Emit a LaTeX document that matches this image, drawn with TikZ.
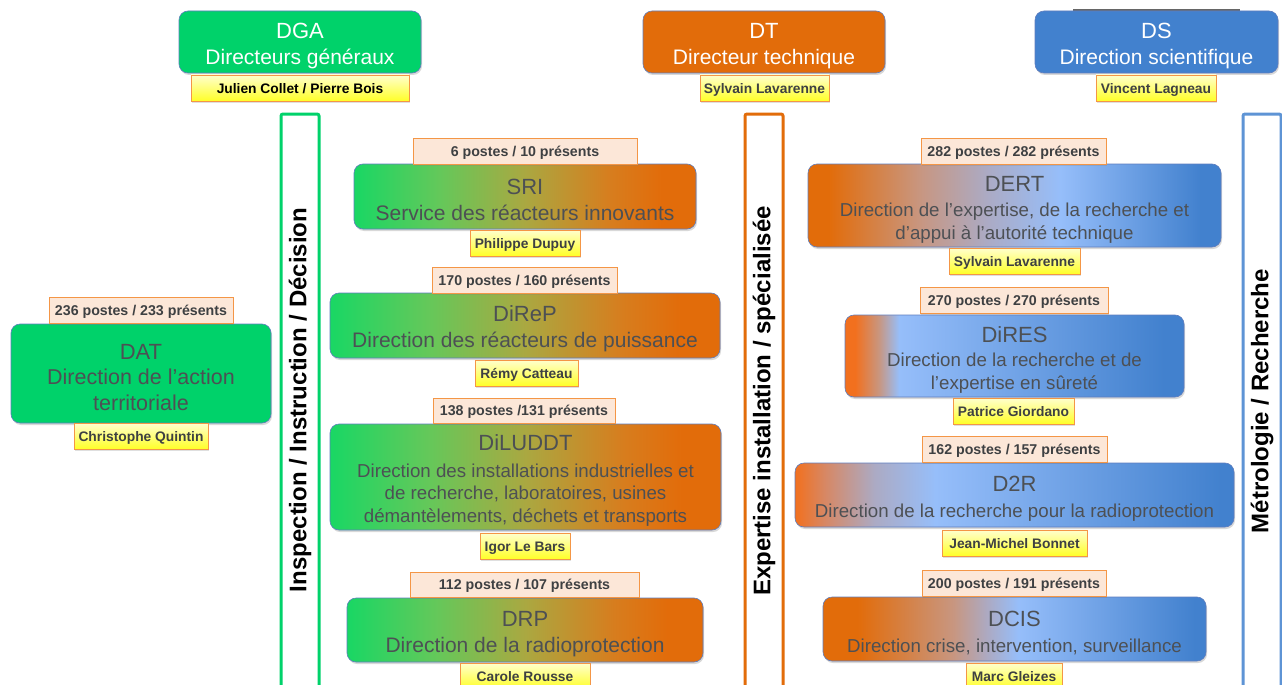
\documentclass[tikz,border=0pt]{standalone}
\usepackage{fontspec}
\setmainfont{Liberation Sans}
\usetikzlibrary{shadows}
\definecolor{cG}{RGB}{0,210,106}
\definecolor{cO}{RGB}{226,108,10}
\definecolor{cOb}{RGB}{242,112,30}
\definecolor{cB}{RGB}{66,129,206}
\definecolor{cLB}{RGB}{150,190,250}
\definecolor{tanA}{RGB}{200,150,128}
\definecolor{tanB}{RGB}{214,136,102}
\definecolor{lav}{RGB}{172,170,195}
\definecolor{gA}{RGB}{25,215,100}
\definecolor{gB}{RGB}{100,200,90}
\definecolor{gC}{RGB}{170,168,65}
\definecolor{gD}{RGB}{215,125,30}
\definecolor{txt}{RGB}{77,80,84}
\definecolor{lab}{RGB}{62,64,66}
\definecolor{bord}{RGB}{95,125,190}
\definecolor{peach}{RGB}{252,231,216}
\definecolor{orb}{RGB}{244,150,70}
\definecolor{ylo}{RGB}{255,255,40}
\definecolor{yhi}{RGB}{255,255,205}
\pgfdeclarehorizontalshading{gro}{100bp}{color(0bp)=(gA); color(25bp)=(gA); color(37.5bp)=(gB); color(50bp)=(gC); color(62.5bp)=(gD); color(70bp)=(cO); color(100bp)=(cO)}
\pgfdeclarehorizontalshading{dert}{100bp}{color(0bp)=(cO); color(27.5bp)=(cO); color(38.5bp)=(tanA); color(46.5bp)=(lav); color(55.5bp)=(cLB); color(72.5bp)=(cB); color(100bp)=(cB)}
\pgfdeclarehorizontalshading{dires}{100bp}{color(0bp)=(cOb); color(26.5bp)=(cOb); color(30bp)=(tanA); color(33bp)=(cLB); color(72bp)=(cB); color(100bp)=(cB)}
\pgfdeclarehorizontalshading{dtr}{100bp}{color(0bp)=(cOb); color(25bp)=(cOb); color(28.5bp)=(tanB); color(34bp)=(lav); color(41bp)=(cLB); color(73.5bp)=(cB); color(100bp)=(cB)}
\pgfdeclarehorizontalshading{dcis}{100bp}{color(0bp)=(cO); color(29.5bp)=(cO); color(42bp)=(tanA); color(46.5bp)=(lav); color(50.5bp)=(cLB); color(73.5bp)=(cB); color(100bp)=(cB)}
\tikzset{
  unit/.style={rounded corners=9pt, draw=bord, line width=0.6pt, inner sep=0pt, outer sep=0pt, align=center, text=txt,
    drop shadow={shadow xshift=1pt, shadow yshift=-2pt, opacity=0.3}},
  head/.style={unit, text=white, minimum width=242pt, minimum height=62pt, font=\fontsize{21}{26}\selectfont},
  big/.style={font=\fontsize{21}{26}\selectfont},
  small/.style={font=\fontsize{18.7}{22.5}\selectfont},
  count/.style={draw=orb, line width=0.8pt, fill=peach, inner sep=0pt, outer sep=0pt, minimum height=26pt, text=lab,
    text height=13pt, text depth=3pt,
    font=\bfseries\fontsize{14.2}{16}\selectfont, drop shadow={shadow xshift=1pt, shadow yshift=-1.5pt, opacity=0.25}},
  who/.style={count, top color=yhi, bottom color=ylo, font=\bfseries\fontsize{13.8}{16}\selectfont},
  band/.style={line width=3pt, rounded corners=2pt},
  bandtxt/.style={rotate=90, inner sep=0pt, font=\bfseries\fontsize{24}{28}\selectfont, text=black},
}
\newcommand{\ttl}[1]{{\fontsize{22}{26}\selectfont\rule{0pt}{23pt}#1}}
\begin{document}
\begin{tikzpicture}[x=1pt, y=-1pt]
\fill[white] (0,0) rectangle (1282,685);
\useasboundingbox (0,0) rectangle (1282,685);
\clip (0,0) rectangle (1282,685);

% headers
\draw[black!75, line width=2pt, opacity=0.8] (1073,10) -- (1240,10);
\node[head, fill=cG] (dga) at (300,42) {\ttl{DGA}\\Directeurs généraux};
\node[head, fill=cO] (dt) at (764,42) {\ttl{DT}\\Directeur technique};
\node[head, fill=cB, minimum width=243pt] (ds) at (1156.5,42) {\ttl{DS}\\Direction scientifique};
\node[who, text=black, minimum width=218pt] (dgan) at (300,88) {Julien Collet / Pierre Bois};
\node[who, minimum width=129pt] (dtn) at (764.5,88) {Sylvain Lavarenne};
\node[who, minimum width=120pt] (dsn) at (1156,88) {Vincent Lagneau};

% bands
\draw[band, draw=cG] (281,720) |- (319,114) -- (319,720);
\draw[band, draw=cO] (745,720) |- (783,114) -- (783,720);
\draw[band, draw=cB!85!white] (1243,720) |- (1281,114) -- (1281,720);
\node[bandtxt] (t1) at (300,400) {Inspection / Instruction / Décision};
\node[bandtxt] (t2) at (764,401) {Expertise installation / spécialisée};
\node[bandtxt] (t3) at (1262,401) {Métrologie / Recherche};

% DAT
\node[unit, fill=cG, minimum width=260pt, minimum height=99pt, font=\fontsize{21.5}{25.5}\selectfont] (dat) at (141,373.5)
  {\ttl{DAT}\\Direction de l’action\\territoriale};
\node[count, minimum width=184pt] (datc) at (141,310) {236 postes / 233 présents};
\node[who, minimum width=134pt] (datn) at (141,436) {Christophe Quintin};

% left column
\node[unit, shade, shading=gro, big, minimum width=342pt, minimum height=65pt] (sri) at (525,196.5)
  {\ttl{SRI}\\Service des réacteurs innovants};
\node[count, minimum width=224pt] (sric) at (525,151) {6 postes / 10 présents};
\node[who, minimum width=110pt] (srin) at (525,243) {Philippe Dupuy};

\node[unit, shade, shading=gro, big, minimum width=390pt, minimum height=65pt] (direp) at (525,325.5)
  {\ttl{DiReP}\\Direction des réacteurs de puissance};
\node[count, minimum width=185pt] (direpc) at (524.5,280) {170 postes / 160 présents};
\node[who, minimum width=103pt] (direpn) at (526.5,373) {Rémy Catteau};

\node[unit, shade, shading=gro, small, minimum width=391pt, minimum height=106pt] (diluddt) at (525.5,477)
  {\ttl{DiLUDDT}\\[4pt]Direction des installations industrielles et\\de recherche, laboratoires, usines\\démantèlements, déchets et transports};
\node[count, minimum width=182pt, minimum height=25pt] (diluddtc) at (524,410.5) {138 postes /131 présents};
\node[who, minimum width=90pt] (diluddtn) at (525,546) {Igor Le Bars};

\node[unit, shade, shading=gro, big, minimum width=356pt, minimum height=64pt] (drp) at (525,630)
  {\ttl{DRP}\\Direction de la radioprotection};
\node[count, minimum width=229pt, minimum height=25pt] (drpc) at (524.5,584.5) {112 postes / 107 présents};
\node[who, minimum width=130pt] (drpn) at (525,676) {Carole Rousse};

% right column
\node[unit, shade, shading=dert, small, minimum width=413pt, minimum height=83pt] (dert) at (1014.5,205.5)
  {\ttl{DERT}\\[3pt]Direction de l’expertise, de la recherche et\\d’appui à l’autorité technique};
\node[count, minimum width=185pt] (dertc) at (1013.5,151) {282 postes / 282 présents};
\node[who, minimum width=131pt] (dertn) at (1014.5,261) {Sylvain Lavarenne};

\node[unit, shade, shading=dires, small, minimum width=339pt, minimum height=82pt] (dires) at (1014.5,356)
  {\ttl{DiRES}\\[2pt]Direction de la recherche et de\\l’expertise en sûreté};
\node[count, minimum width=188pt] (diresc) at (1014,300) {270 postes / 270 présents};
\node[who, minimum width=121pt] (diresn) at (1013.5,411) {Patrice Giordano};

\node[unit, shade, shading=dtr, small, minimum width=439pt, minimum height=64pt] (dtr) at (1014.5,495)
  {\ttl{D2R}\\[3pt]Direction de la recherche pour la radioprotection};
\node[count, minimum width=185pt] (dtrc) at (1014.5,449) {162 postes / 157 présents};
\node[who, minimum width=145pt] (dtrn) at (1014.5,543) {Jean-Michel Bonnet};

\node[unit, shade, shading=dcis, small, minimum width=383pt, minimum height=64pt] (dcis) at (1014.5,629)
  {\ttl{DCIS}\\[3pt]Direction crise, intervention, surveillance};
\node[count, minimum width=184pt] (dcisc) at (1014,583) {200 postes / 191 présents};
\node[who, minimum width=96pt] (dcisn) at (1014,676) {Marc Gleizes};
\end{tikzpicture}
\end{document}
